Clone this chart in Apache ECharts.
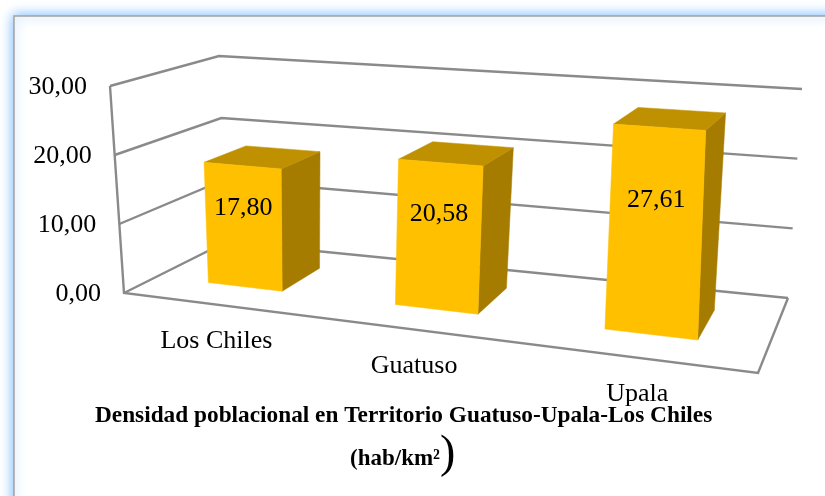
<!DOCTYPE html>
<html>
<head>
<meta charset="utf-8">
<style>html,body{margin:0;padding:0;background:#fff}#main{width:825px;height:496px}</style>
<script src="https://cdn.jsdelivr.net/npm/echarts@6/dist/echarts.min.js"></script>
</head>
<body>
<div id="main"></div>
<script>
var categories = ['Los Chiles', 'Guatuso', 'Upala'];
var densidad = [17.80, 20.58, 27.61];
var yTicks = [0, 10, 20, 30];

// esquinas del piso y del plano superior (perspectiva del 3D de Excel)
var floorQuad = [[124, 293], [758, 373], [788, 298], [226, 242]];
var topQuad = [[110, 86], [762, 130], [802, 89], [219, 56]];
var serif = '"Liberation Serif", serif';

function quadMap(q, u, v) {
    var dx1 = q[1][0] - q[2][0], dx2 = q[3][0] - q[2][0], sx = q[0][0] - q[1][0] + q[2][0] - q[3][0];
    var dy1 = q[1][1] - q[2][1], dy2 = q[3][1] - q[2][1], sy = q[0][1] - q[1][1] + q[2][1] - q[3][1];
    var det = dx1 * dy2 - dx2 * dy1;
    var g = (sx * dy2 - dx2 * sy) / det;
    var h = (dx1 * sy - sx * dy1) / det;
    var d = g * u + h * v + 1;
    return [
        ((q[1][0] - q[0][0] + g * q[1][0]) * u + (q[3][0] - q[0][0] + h * q[3][0]) * v + q[0][0]) / d,
        ((q[1][1] - q[0][1] + g * q[1][1]) * u + (q[3][1] - q[0][1] + h * q[3][1]) * v + q[0][1]) / d
    ];
}

// u: a lo largo de categorias, v: profundidad, w: altura (0-1)
function project(u, v, w) {
    u = u + 0.06 * u * (1 - u);
    var a = quadMap(floorQuad, u, v), b = quadMap(topQuad, u, v);
    return [a[0] + (b[0] - a[0]) * w, a[1] + (b[1] - a[1]) * w];
}

function toUW(params, api, i, val) {
    var c = api.coord([i, val]), s = params.coordSys;
    return [(c[0] - s.x) / s.width, (s.y + s.height - c[1]) / s.height];
}

function poly(points, fill) {
    return {type: 'polygon', shape: {points: points}, style: {fill: fill, stroke: fill, lineWidth: 0.5}};
}

var lineColor = '#8a8a8a';

function renderTick(params, api) {
    var w = toUW(params, api, 0, api.value(1))[1];
    var pts = [project(0, 0, w), project(0, 1, w), project(1, 1, w)];
    var kids = [{
        type: 'polyline', shape: {points: pts},
        style: {stroke: lineColor, lineWidth: 2.4, fill: null}
    }, {
        type: 'text',
        style: {
            text: api.value(1).toFixed(2).replace('.', ','),
            x: pts[0][0] - 23, y: pts[0][1] + 1.5,
            align: 'right', verticalAlign: 'middle',
            font: '26px ' + serif, fill: '#000'
        }
    }];
    if (params.dataIndex === 0) {
        kids.push({
            type: 'polyline',
            shape: {points: [project(0, 0, 1), project(0, 0, 0), project(1, 0, 0), project(1, 1, 0)]},
            style: {stroke: lineColor, lineWidth: 2.4, fill: null}
        });
    }
    return {type: 'group', children: kids};
}

var halfBar = 0.068, vFront = 0.295, vBack = 0.71;

function renderBar(params, api) {
    var i = api.value(0), val = api.value(1);
    var uw = toUW(params, api, i, val);
    var uL = uw[0] - halfBar, uR = uw[0] + halfBar, w = uw[1];
    var fl0 = project(uL, vFront, 0), fr0 = project(uR, vFront, 0), br0 = project(uR, vBack, 0);
    var fl1 = project(uL, vFront, w), fr1 = project(uR, vFront, w), br1 = project(uR, vBack, w), bl1 = project(uL, vBack, w);
    var lab = project(uw[0], vFront, w * 0.65);
    return {type: 'group', children: [
        poly([fr0, br0, br1, fr1], '#A67C00'),
        poly([fl1, fr1, br1, bl1], '#BF9000'),
        poly([fl0, fr0, fr1, fl1], '#FFC000'),
        {
            type: 'text',
            style: {
                text: val.toFixed(2).replace('.', ','),
                x: lab[0], y: lab[1],
                align: 'center', verticalAlign: 'middle',
                font: '26px ' + serif, fill: '#000'
            }
        }
    ]};
}

function renderCategory(params, api) {
    var i = api.value(0);
    var u = toUW(params, api, i, 0)[0];
    var p = project(u, 0, 0);
    return {
        type: 'text',
        style: {
            text: categories[i],
            x: p[0] + 2, y: p[1] + 37,
            align: 'center', verticalAlign: 'middle',
            font: '26px ' + serif, fill: '#000'
        }
    };
}

var myChart = echarts.init(document.getElementById('main'));
var option = {
    animation: false,
    backgroundColor: '#fff',
    graphic: [{
        type: 'rect', z: -10,
        shape: {x: 14, y: 16, width: 1000, height: 700},
        style: {fill: '#fff', stroke: '#a3a3a3', lineWidth: 1.5, shadowBlur: 12, shadowColor: '#6fb4ff'}
    }],
    title: [
        {
            text: 'Densidad poblacional en Territorio Guatuso-Upala-Los Chiles',
            left: 95, top: 404, padding: 0, z: 10,
            textStyle: {fontFamily: serif, fontSize: 23.3, fontWeight: 'bold', color: '#000'}
        },
        {
            text: '{a|(hab/km²}{b|)}',
            left: 350, top: 432, padding: 0, z: 10,
            textStyle: {
                rich: {
                    a: {fontFamily: serif, fontSize: 23, fontWeight: 'bold', color: '#000', verticalAlign: 'bottom', padding: [0, 0, 7, 0]},
                    b: {fontFamily: serif, fontSize: 46, fontWeight: 'normal', color: '#000'}
                }
            }
        }
    ],
    grid: {left: 0, right: 0, top: 0, bottom: 0},
    xAxis: {type: 'category', data: categories, show: false},
    yAxis: {type: 'value', min: 0, max: 30, interval: 10, show: false},
    series: [
        {
            type: 'custom', coordinateSystem: 'cartesian2d', z: 2, clip: false,
            renderItem: renderTick,
            data: yTicks.map(function (t) { return [0, t]; })
        },
        {
            type: 'custom', coordinateSystem: 'cartesian2d', z: 3, clip: false,
            renderItem: renderBar,
            data: densidad.map(function (v, i) { return [i, v]; })
        },
        {
            type: 'custom', coordinateSystem: 'cartesian2d', z: 4, clip: false,
            renderItem: renderCategory,
            data: categories.map(function (c, i) { return [i, 0]; })
        }
    ]
};
myChart.setOption(option, true);
</script>
</body>
</html>
